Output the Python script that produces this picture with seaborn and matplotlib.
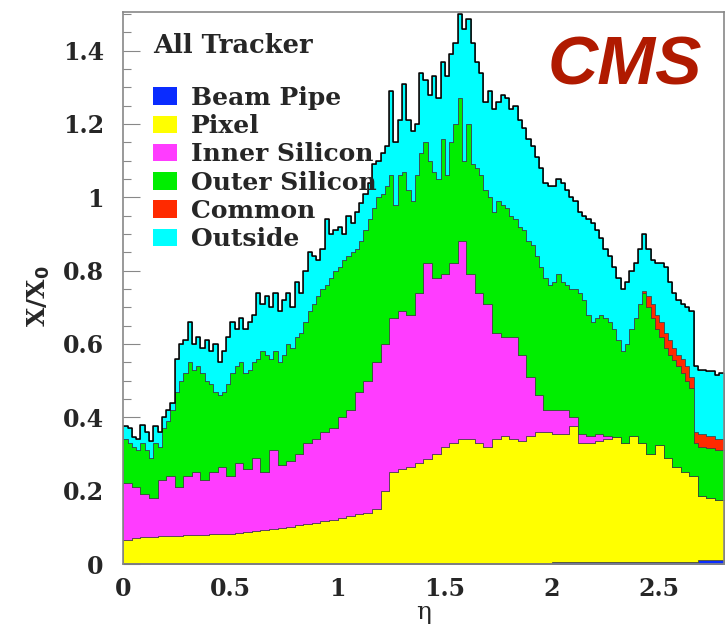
import numpy as np
import pandas as pd
import matplotlib
matplotlib.use("Agg")
import matplotlib.pyplot as plt
import seaborn as sns
from matplotlib.patches import Patch
from matplotlib.ticker import MultipleLocator, FuncFormatter

# ---- data: X/X0 per eta bin ----
bin_width = 0.02
eta_centers = np.round(np.arange(140) * bin_width + bin_width / 2, 3)

# smooth layers were read on a coarser 0.04 grid (each value covers two 0.02 bins)
beam_pipe_coarse = [0.002] * 30 + [0.003] * 20 + [0.005] * 17 + [0.012] * 3

pixel_coarse = [0.063, 0.070, 0.071, 0.072, 0.073, 0.074, 0.075, 0.076, 0.077, 0.078,
                0.079, 0.080, 0.081, 0.083, 0.085, 0.087, 0.090, 0.093, 0.096, 0.099,
                0.103, 0.106, 0.110, 0.114, 0.118, 0.123, 0.128, 0.133, 0.138, 0.148,
                0.197, 0.247, 0.257, 0.262, 0.272, 0.282, 0.297, 0.317, 0.327, 0.337,
                0.337, 0.327, 0.317, 0.337, 0.347, 0.337, 0.332, 0.347, 0.357, 0.357,
                0.350, 0.350, 0.370, 0.325, 0.325, 0.330, 0.335, 0.340, 0.325, 0.345,
                0.325, 0.295, 0.320, 0.285, 0.260, 0.245, 0.235, 0.173, 0.168, 0.163]

inner_silicon_coarse = [0.155, 0.138, 0.117, 0.106, 0.155, 0.164, 0.133, 0.162, 0.171, 0.150,
                        0.169, 0.183, 0.157, 0.190, 0.173, 0.201, 0.158, 0.215, 0.172, 0.179,
                        0.195, 0.222, 0.228, 0.244, 0.250, 0.275, 0.290, 0.335, 0.360, 0.400,
                        0.400, 0.420, 0.430, 0.415, 0.465, 0.535, 0.480, 0.470, 0.490, 0.540,
                        0.450, 0.410, 0.390, 0.290, 0.270, 0.280, 0.235, 0.160, 0.100, 0.060,
                        0.065, 0.065, 0.025, 0.025, 0.020, 0.020, 0.010, 0.0, 0.0, 0.0,
                        0.0, 0.0, 0.0, 0.0, 0.0, 0.0, 0.0, 0.0, 0.0, 0.0]

# spiky layers read on the fine 0.02 grid
outer_silicon = [0.12, 0.11, 0.11, 0.10, 0.14, 0.12, 0.11, 0.15, 0.09, 0.14,
                 0.15, 0.18, 0.26, 0.29, 0.28, 0.31, 0.28, 0.29, 0.29, 0.27,
                 0.24, 0.22, 0.195, 0.205, 0.25, 0.28, 0.265, 0.275, 0.26, 0.27,
                 0.26, 0.27, 0.33, 0.32, 0.25, 0.27, 0.28, 0.30, 0.32, 0.31,
                 0.32, 0.33, 0.33, 0.36, 0.37, 0.39, 0.39, 0.40, 0.41, 0.43,
                 0.41, 0.43, 0.42, 0.43, 0.39, 0.41, 0.41, 0.44, 0.42, 0.45,
                 0.41, 0.43, 0.39, 0.31, 0.37, 0.38, 0.34, 0.31, 0.32, 0.38,
                 0.33, 0.28, 0.29, 0.27, 0.37, 0.27, 0.33, 0.38, 0.39, 0.22,
                 0.41, 0.30, 0.34, 0.32, 0.31, 0.29, 0.33, 0.36, 0.36, 0.35,
                 0.33, 0.32, 0.35, 0.34, 0.37, 0.36, 0.38, 0.35, 0.36, 0.34,
                 0.35, 0.37, 0.35, 0.34, 0.35, 0.35, 0.385, 0.365, 0.33, 0.31,
                 0.315, 0.325, 0.32, 0.31, 0.295, 0.265, 0.25, 0.27, 0.29, 0.32,
                 0.38, 0.41, 0.40, 0.37, 0.315, 0.295, 0.30, 0.28, 0.29, 0.275,
                 0.27, 0.25, 0.24, 0.09, 0.135, 0.135, 0.135, 0.135, 0.135, 0.135]

common = [0.0] * 121 + [0.005, 0.03, 0.04, 0.04, 0.04, 0.04, 0.04, 0.035, 0.03,
                        0.04, 0.04, 0.03, 0.03, 0.035, 0.035, 0.035, 0.035, 0.03, 0.03]

outside = [0.035, 0.04, 0.025, 0.03, 0.05, 0.05, 0.045, 0.045, 0.04, 0.03,
           0.03, 0.02, 0.09, 0.10, 0.09, 0.11, 0.07, 0.08, 0.07, 0.11,
           0.09, 0.13, 0.09, 0.11, 0.13, 0.14, 0.10, 0.12, 0.12, 0.13,
           0.13, 0.18, 0.13, 0.16, 0.14, 0.16, 0.14, 0.15, 0.14, 0.11,
           0.15, 0.11, 0.14, 0.16, 0.13, 0.10, 0.11, 0.18, 0.12, 0.11,
           0.11, 0.07, 0.11, 0.08, 0.10, 0.105, 0.10, 0.10, 0.12, 0.10,
           0.11, 0.11, 0.23, 0.17, 0.15, 0.24, 0.19, 0.19, 0.14, 0.22,
           0.17, 0.18, 0.26, 0.22, 0.21, 0.27, 0.24, 0.22, 0.23, 0.36,
           0.285, 0.33, 0.29, 0.28, 0.24, 0.29, 0.28, 0.27, 0.30, 0.30,
           0.29, 0.31, 0.29, 0.28, 0.28, 0.27, 0.27, 0.27, 0.26, 0.27,
           0.26, 0.26, 0.27, 0.26, 0.25, 0.24, 0.22, 0.23, 0.26, 0.27,
           0.24, 0.21, 0.19, 0.18, 0.17, 0.17, 0.17, 0.17, 0.16, 0.15,
           0.15, 0.155, 0.13, 0.12, 0.14, 0.16, 0.18, 0.16, 0.15, 0.15,
           0.15, 0.16, 0.18, 0.18, 0.175, 0.175, 0.175, 0.175, 0.175, 0.18]

components = ["Beam Pipe", "Pixel", "Inner Silicon", "Outer Silicon", "Common", "Outside"]
series = [np.repeat(beam_pipe_coarse, 2), np.repeat(pixel_coarse, 2),
          np.repeat(inner_silicon_coarse, 2), outer_silicon, common, outside]
colors = ["#0a2cff", "#ffff00", "#ff3cff", "#00ee00", "#ff2a00", "#00ffff"]
palette = dict(zip(components, colors))

df = pd.concat(
    [pd.DataFrame({"eta": eta_centers, "x0": np.asarray(vals, float), "component": name})
     for name, vals in zip(components, series)],
    ignore_index=True,
)
edges = [round(i * bin_width, 3) for i in range(141)]

# ---- style ----
sns.set_theme(style="ticks")
plt.rcParams["font.family"] = ["DejaVu Serif", "DejaVu Sans"]
plt.rcParams["font.weight"] = "bold"

fig = plt.figure(figsize=(7.25, 6.25), dpi=100)
ax = fig.add_axes([0.170, 0.0976, 0.828, 0.8832])

sns.histplot(data=df, x="eta", weights="x0", hue="component",
             hue_order=components[::-1], multiple="stack", bins=edges,
             element="step", fill=True, palette=palette, alpha=1,
             edgecolor="#3c3c3c", linewidth=0.5, legend=False, ax=ax)
# total outline
sns.histplot(data=df, x="eta", weights="x0", bins=edges, element="step",
             fill=False, color="black", linewidth=1.1, ax=ax)

ax.set_xlim(0, 2.8)
ax.set_ylim(0, 1.505)
ax.yaxis.set_major_locator(MultipleLocator(0.2))
ax.yaxis.set_minor_locator(MultipleLocator(0.05))
ax.xaxis.set_major_locator(MultipleLocator(0.5))
fmt = FuncFormatter(lambda v, p: f"{v:g}")
ax.xaxis.set_major_formatter(fmt)
ax.yaxis.set_major_formatter(fmt)
ax.tick_params(axis="y", which="major", direction="in", length=12, width=0.8,
               color="#888888", labelsize=17, pad=14)
ax.tick_params(axis="y", which="minor", direction="in", length=6, width=0.8,
               color="#888888")
ax.tick_params(axis="x", which="both", length=0, labelsize=17, pad=9)
for s in ax.spines.values():
    s.set_color("#888888")
    s.set_linewidth(1.2)

ax.set_xlabel("η", fontsize=18, fontweight="normal", labelpad=0)
ax.set_ylabel("X/X$_0$", fontsize=18, fontweight="bold")
ax.yaxis.set_label_coords(-0.118, 0.485)

# legend
ax.text(0.05, 0.94, "All Tracker", transform=ax.transAxes, fontsize=18.5,
        fontweight="bold", va="center", ha="left")
handles = [Patch(facecolor=c, edgecolor="none") for c in colors]
leg = ax.legend(handles, components, loc="upper left", bbox_to_anchor=(0.05, 0.866),
                frameon=False, fontsize=18, labelspacing=0.17,
                handlelength=0.95, handleheight=0.7, handletextpad=0.55,
                borderaxespad=0, borderpad=0)

ax.text(0.835, 0.902, "CMS", transform=ax.transAxes, fontsize=50,
        fontweight="bold", fontstyle="italic", family=["Liberation Sans"],
        color="#b01a00", ha="center", va="center")

fig.savefig("out.png", dpi=100)
